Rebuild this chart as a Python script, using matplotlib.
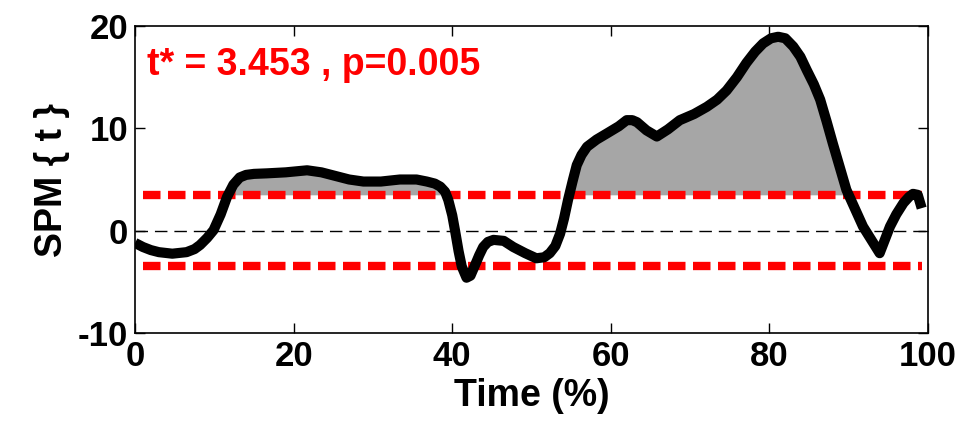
import numpy as np
import matplotlib
matplotlib.use('Agg')
from matplotlib import pyplot as plt

# SPM{t} trajectory (time %, t value)
time_pct = [0, 1, 2, 3, 4.7, 6.5, 7.5, 8.2, 9.1, 9.9, 10.8, 11.6, 12.4, 13.2, 14, 15, 16.6,
            19, 21.7, 23.5, 25, 27, 28.8, 31, 33.4, 35.5, 36.8, 37.8, 38.5, 39.1, 39.5,
            40, 40.4, 40.8, 41.2, 41.8, 42.3, 42.8, 43.4, 43.9, 44.5, 45.2, 46.5, 47.7,
            49.2, 50.6, 51.6, 52.3, 53, 53.6, 54.1, 54.6, 55.2, 55.7, 56.3, 57, 58.2,
            59.5, 61, 62, 62.7, 63.3, 64.5, 65.8, 67.2, 68.7, 70.5, 72.1, 73.4, 74.6,
            75.9, 77.1, 78.2, 79.2, 80.2, 81.1, 82, 83, 83.9, 84.7, 85.6, 86.4, 87.2,
            88, 89.7, 91.8, 93.9, 94.5, 95.2, 96, 96.9, 97.6, 98.1, 98.7, 99.2]
spm_t = [-1.2, -1.6, -1.9, -2.1, -2.25, -2.1, -1.8, -1.4, -0.7, 0.05, 1.6, 3.3, 4.5, 5.2,
         5.45, 5.55, 5.6, 5.7, 5.9, 5.7, 5.4, 5.0, 4.8, 4.8, 5.0, 5.0, 4.8, 4.6, 4.3,
         3.8, 3.0, 1.5, -0.2, -2.0, -3.5, -4.6, -4.4, -3.5, -2.4, -1.6, -1.1, -0.9, -1.0,
         -1.6, -2.2, -2.7, -2.6, -2.2, -1.5, -0.3, 1.2, 3.0, 4.9, 6.4, 7.4, 8.2, 8.9,
         9.5, 10.2, 10.8, 10.8, 10.6, 9.8, 9.2, 9.9, 10.8, 11.4, 12.1, 12.8, 13.7,
         15.0, 16.4, 17.5, 18.3, 18.8, 18.95, 18.8, 18.0, 17.0, 15.7, 14.3, 12.8, 10.7,
         8.5, 4.0, 0.4, -2.2, -1.0, 0.4, 1.6, 2.7, 3.3, 3.6, 3.5, 2.2]

t_crit = 3.453
p_val = 0.005
annot = 't* = %.3f , p=%.3f' % (t_crit, p_val)

x = np.array(time_pct)
y = np.array(spm_t)

plt.rcParams['font.family'] = ['Liberation Sans', 'DejaVu Sans']
plt.rcParams['font.weight'] = 'bold'
plt.rcParams['axes.unicode_minus'] = False

fig = plt.figure(figsize=(9.66, 4.23), dpi=100)
ax = fig.add_axes([0.1398, 0.2128, 0.8209, 0.7257])

ax.fill_between(x, t_crit, y, where=y > t_crit, interpolate=True,
                color='#a6a6a6', linewidth=0, zorder=1)
ax.plot([0, 100], [0, 0], color='k', lw=1, dashes=(9, 5), zorder=2)
for thr in (t_crit, -t_crit):
    ax.plot([1, 99.2], [thr, thr], color='#ff0000', lw=6, dashes=(2.1, 0.9),
            solid_capstyle='butt', dash_capstyle='butt', zorder=3)
ax.plot(x, y, color='k', lw=7.3, solid_joinstyle='round', solid_capstyle='butt', zorder=4)

ax.text(1.5, 16.2, annot, color='#ff0000', fontsize=27, fontweight='bold',
        va='center', ha='left')

ax.set_xlim(0, 100)
ax.set_ylim(-10, 20)
ax.set_xticks([0, 20, 40, 60, 80, 100])
ax.set_yticks([-10, 0, 10, 20])
ax.tick_params(direction='in', length=7, width=1, labelsize=25, pad=5,
               top=True, right=True)
for s in ax.spines.values():
    s.set_linewidth(1.2)
ax.set_xlabel('Time (%)', fontsize=27, fontweight='bold', labelpad=4)
ax.set_ylabel('SPM { t }', fontsize=27, fontweight='bold', labelpad=6)

fig.savefig('out.png', dpi=100)
